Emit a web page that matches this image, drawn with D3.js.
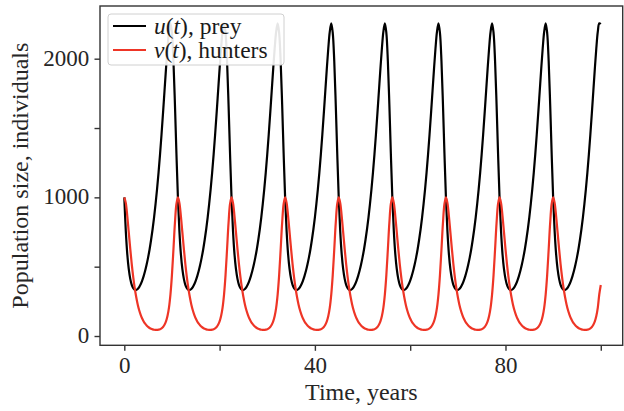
<!DOCTYPE html>
<html>
<head>
<meta charset="utf-8">
<script src="https://cdn.jsdelivr.net/npm/d3@7"></script>
<style>
  body { margin: 0; background: #fff; }
  svg { display: block; font-family: "Liberation Serif", "Times New Roman", serif; }
</style>
</head>
<body>
<svg id="chart" width="624" height="411"></svg>
<script>
// sampled every 0.3125 years, 36 samples per cycle
const timeStep = 0.3125;

const prey = [
  1000, 758, 591, 482, 412, 369, 345, 333, 332, 339, 353, 373, 400, 432, 470, 515, 567, 626, 694, 770, 856, 953, 1060, 1179, 1310, 1453, 1607, 1767, 1927, 2075, 2195, 2255, 2185, 1983, 1673, 1320,
  1000, 758, 591, 482, 412, 369, 345, 333, 332, 339, 353, 373, 400, 432, 470, 515, 567, 626, 694, 770, 856, 953, 1060, 1179, 1310, 1453, 1607, 1767, 1927, 2075, 2195, 2255, 2185, 1983, 1673, 1320,
  1000, 758, 591, 482, 412, 369, 345, 333, 332, 339, 353, 373, 400, 432, 470, 515, 567, 626, 694, 770, 856, 953, 1060, 1179, 1310, 1453, 1607, 1767, 1927, 2075, 2195, 2255, 2185, 1983, 1673, 1320,
  1000, 758, 591, 482, 412, 369, 345, 333, 332, 339, 353, 373, 400, 432, 470, 515, 567, 626, 694, 770, 856, 953, 1060, 1179, 1310, 1453, 1607, 1767, 1927, 2075, 2195, 2255, 2185, 1983, 1673, 1320,
  1000, 758, 591, 482, 412, 369, 345, 333, 332, 339, 353, 373, 400, 432, 470, 515, 567, 626, 694, 770, 856, 953, 1060, 1179, 1310, 1453, 1607, 1767, 1927, 2075, 2195, 2255, 2185, 1983, 1673, 1320,
  1000, 758, 591, 482, 412, 369, 345, 333, 332, 339, 353, 373, 400, 432, 470, 515, 567, 626, 694, 770, 856, 953, 1060, 1179, 1310, 1453, 1607, 1767, 1927, 2075, 2195, 2255, 2185, 1983, 1673, 1320,
  1000, 758, 591, 482, 412, 369, 345, 333, 332, 339, 353, 373, 400, 432, 470, 515, 567, 626, 694, 770, 856, 953, 1060, 1179, 1310, 1453, 1607, 1767, 1927, 2075, 2195, 2255, 2185, 1983, 1673, 1320,
  1000, 758, 591, 482, 412, 369, 345, 333, 332, 339, 353, 373, 400, 432, 470, 515, 567, 626, 694, 770, 856, 953, 1060, 1179, 1310, 1453, 1607, 1767, 1927, 2075, 2195, 2255, 2185, 1983, 1673, 1320,
  1000, 758, 591, 482, 412, 369, 345, 333, 332, 339, 353, 373, 400, 432, 470, 515, 567, 626, 694, 770, 856, 953, 1060, 1179, 1310, 1453, 1607, 1767, 1927, 2075, 2195, 2255, 2250
];

const hunters = [
  1000, 960, 865, 747, 628, 519, 425, 346, 281, 228, 186, 153, 126, 105, 89, 76, 66, 58, 52, 48, 45, 44, 44, 46, 49, 55, 65, 81, 105, 144, 205, 301, 441, 624, 814, 952,
  1000, 960, 865, 747, 628, 519, 425, 346, 281, 228, 186, 153, 126, 105, 89, 76, 66, 58, 52, 48, 45, 44, 44, 46, 49, 55, 65, 81, 105, 144, 205, 301, 441, 624, 814, 952,
  1000, 960, 865, 747, 628, 519, 425, 346, 281, 228, 186, 153, 126, 105, 89, 76, 66, 58, 52, 48, 45, 44, 44, 46, 49, 55, 65, 81, 105, 144, 205, 301, 441, 624, 814, 952,
  1000, 960, 865, 747, 628, 519, 425, 346, 281, 228, 186, 153, 126, 105, 89, 76, 66, 58, 52, 48, 45, 44, 44, 46, 49, 55, 65, 81, 105, 144, 205, 301, 441, 624, 814, 952,
  1000, 960, 865, 747, 628, 519, 425, 346, 281, 228, 186, 153, 126, 105, 89, 76, 66, 58, 52, 48, 45, 44, 44, 46, 49, 55, 65, 81, 105, 144, 205, 301, 441, 624, 814, 952,
  1000, 960, 865, 747, 628, 519, 425, 346, 281, 228, 186, 153, 126, 105, 89, 76, 66, 58, 52, 48, 45, 44, 44, 46, 49, 55, 65, 81, 105, 144, 205, 301, 441, 624, 814, 952,
  1000, 960, 865, 747, 628, 519, 425, 346, 281, 228, 186, 153, 126, 105, 89, 76, 66, 58, 52, 48, 45, 44, 44, 46, 49, 55, 65, 81, 105, 144, 205, 301, 441, 624, 814, 952,
  1000, 960, 865, 747, 628, 519, 425, 346, 281, 228, 186, 153, 126, 105, 89, 76, 66, 58, 52, 48, 45, 44, 44, 46, 49, 55, 65, 81, 105, 144, 205, 301, 441, 624, 814, 952,
  1000, 960, 865, 747, 628, 519, 425, 346, 281, 228, 186, 153, 126, 105, 89, 76, 66, 58, 52, 48, 45, 44, 44, 46, 49, 55, 65, 81, 105, 144, 205, 301, 368
];

const years = d3.range(prey.length).map(i => i * timeStep);

const xTicks = [0, 20, 40, 60, 80, 100];
const xLabels = [0, 40, 80];
const yTicks = [0, 500, 1000, 1500, 2000];
const yLabels = [0, 1000, 2000];

const svg = d3.select("#chart");
const plotLeft = 100, plotRight = 622.7, plotTop = 6, plotBottom = 345.3;

let x = d3.scaleLinear().domain([-5.1, 104.6]).range([plotLeft, plotRight]);
let y = d3.scaleLinear().domain([-67, 2380]).range([plotBottom, plotTop]);

let xAxis = d3.axisBottom(x)
    .tickValues(xTicks)
    .tickSize(5.5)
    .tickPadding(6.2)
    .tickFormat(d => xLabels.includes(d) ? d : "");

let yAxis = d3.axisLeft(y)
    .tickValues(yTicks)
    .tickSize(5.5)
    .tickPadding(5.2)
    .tickFormat(d => yLabels.includes(d) ? d : "");

let gx = svg.append("g").attr("transform", `translate(0,${plotBottom})`).call(xAxis);
let gy = svg.append("g").attr("transform", `translate(${plotLeft},0)`).call(yAxis);

[gx, gy].forEach(g => {
    g.select(".domain").remove();
    g.selectAll(".tick line").attr("stroke", "#333").attr("stroke-width", 1.4);
    g.selectAll(".tick text")
        .attr("fill", "#262626")
        .style("font-size", "23px")
        .style("font-family", "'Liberation Serif', serif");
});
gy.selectAll(".tick text").attr("dy", "0.28em");

// frame
svg.append("rect")
    .attr("x", plotLeft)
    .attr("y", plotTop)
    .attr("width", plotRight - plotLeft)
    .attr("height", plotBottom - plotTop)
    .attr("fill", "none")
    .attr("stroke", "#333")
    .attr("stroke-width", 1.4);

let line = series => d3.line()
    .x((d, i) => x(years[i]))
    .y(d => y(d))
    .curve(d3.curveCatmullRom)(series);

svg.append("path")
    .attr("d", line(prey))
    .attr("fill", "none")
    .attr("stroke", "#000")
    .attr("stroke-width", 2.2);

svg.append("path")
    .attr("d", line(hunters))
    .attr("fill", "none")
    .attr("stroke", "#ee3526")
    .attr("stroke-width", 2.2);

// axis titles
svg.append("text")
    .attr("x", (plotLeft + plotRight) / 2)
    .attr("y", 400)
    .attr("text-anchor", "middle")
    .attr("fill", "#262626")
    .style("font-size", "24px")
    .text("Time, years");

svg.append("text")
    .attr("transform", `translate(28,${(plotTop + plotBottom) / 2}) rotate(-90)`)
    .attr("text-anchor", "middle")
    .attr("fill", "#262626")
    .style("font-size", "24px")
    .text("Population size, individuals");

// legend
let legend = svg.append("g");
legend.append("rect")
    .attr("x", 108)
    .attr("y", 14)
    .attr("width", 176)
    .attr("height", 51)
    .attr("rx", 3)
    .attr("fill", "#fff")
    .attr("fill-opacity", 0.9)
    .attr("stroke", "#d0d0d0")
    .attr("stroke-width", 1);

const legendItems = [
    { sym: "u", rest: ", prey", color: "#000" },
    { sym: "v", rest: ", hunters", color: "#ee3526" }
];

legendItems.forEach((item, i) => {
    let ly = 26 + i * 24;
    legend.append("line")
        .attr("x1", 113).attr("x2", 146)
        .attr("y1", ly).attr("y2", ly)
        .attr("stroke", item.color)
        .attr("stroke-width", 2.2);
    let t = legend.append("text")
        .attr("x", 154)
        .attr("y", ly + 7.5)
        .attr("fill", "#1a1a1a")
        .style("font-size", "23.5px");
    t.append("tspan").style("font-style", "italic").text(item.sym);
    t.append("tspan").text("(");
    t.append("tspan").style("font-style", "italic").text("t");
    t.append("tspan").text(")" + item.rest);
});
</script>
</body>
</html>
